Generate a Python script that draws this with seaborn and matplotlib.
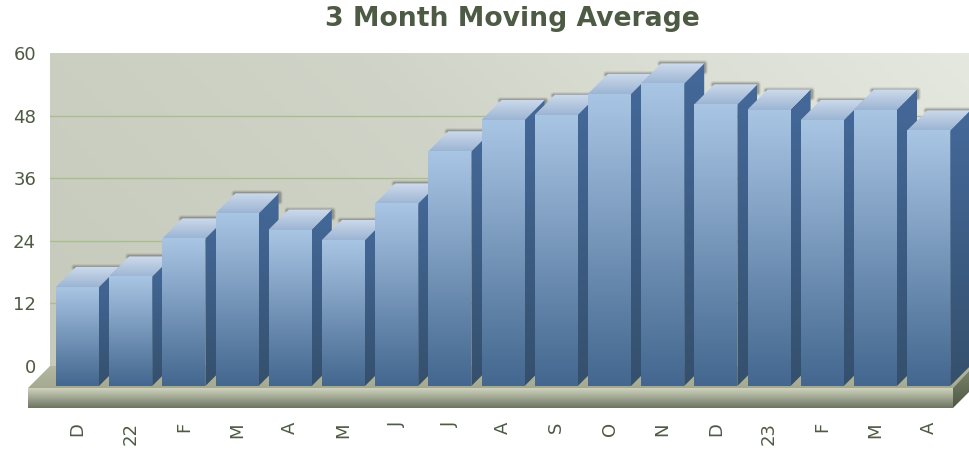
import numpy as np
import pandas as pd
import matplotlib
matplotlib.use("Agg")
import matplotlib.pyplot as plt
from matplotlib.colors import LinearSegmentedColormap
from matplotlib.patches import Polygon
from matplotlib.lines import Line2D
import seaborn as sns

# --- DATA ---
months = ['D', '22', 'F', 'M', 'A', 'M', 'J', 'J', 'A', 'S', 'O', 'N', 'D', '23', 'F', 'M', 'A']
moving_avg = [19, 21, 28.3, 33.1, 30, 28, 35, 45, 51, 52, 56, 58, 54, 53, 51, 53, 49]
y_ticks = [0, 12, 24, 36, 48, 60]

# --- LAYOUT (pixels of the 970x450 canvas) ---
W, H = 970, 450
WALL_LEFT, WALL_TOP, WALL_BOTTOM = 50, 53, 366
FRONT_BOTTOM = 386
PX_PER_UNIT = (WALL_BOTTOM - WALL_TOP) / 60
BAR_PITCH = 53.2
BAR_X0 = 77.5
DEPTH_PX = 20
TEXT_COLOR = '#4d5a44'

sns.set_theme(style="white")
plt.rcParams['font.family'] = 'DejaVu Sans'


def gradient_fill(ax, verts, top, bottom, z):
    """Fills a polygon with a vertical gradient, clipped to the polygon."""
    verts = np.asarray(verts)
    cmap = LinearSegmentedColormap.from_list('g', [top, bottom])
    poly = Polygon(verts, closed=True, transform=ax.transData, fc='none', ec='none')
    im = ax.imshow(np.linspace(0, 1, 128).reshape(-1, 1), cmap=cmap, aspect='auto',
                   extent=[verts[:, 0].min(), verts[:, 0].max(), verts[:, 1].min(), verts[:, 1].max()],
                   origin='upper', zorder=z, interpolation='bilinear')
    im.set_clip_path(poly)
    return im


fig = plt.figure(figsize=(W / 100, H / 100), dpi=100)
fig.patch.set_facecolor('white')


def px_axes(left, top, right, bottom, z):
    return fig.add_axes([left / W, 1 - bottom / H, (right - left) / W, (bottom - top) / H], zorder=z)


# back wall carries the y scale and the grid
ax_wall = px_axes(WALL_LEFT, WALL_TOP, W, WALL_BOTTOM, 0)
gx, gy = np.meshgrid(np.linspace(0, 1, 200), np.linspace(1, 0, 100))
wall_cmap = LinearSegmentedColormap.from_list('wall', ['#c6cabb', '#d0d4c8', '#e5e8df'])
ax_wall.imshow(gx * 0.75 + gy * 0.25, cmap=wall_cmap, aspect='auto', extent=[0, 1, 0, 60], zorder=0)
ax_wall.set_xlim(0, 1)
ax_wall.set_ylim(0, 60)
ax_wall.set_xticks([])
ax_wall.set_yticks(y_ticks)
ax_wall.tick_params(axis='y', length=0, pad=10, labelsize=13, labelcolor=TEXT_COLOR)
for y in y_ticks[1:-1]:
    ax_wall.axhline(y, color='#a9bd8e', lw=1.0, zorder=1)
sns.despine(ax=ax_wall, left=True, bottom=True)

# floor and slab, y axis runs upward from the canvas bottom
ax_floor = px_axes(0, 0, W, H, 1)
ax_floor.set_xlim(0, W)
ax_floor.set_ylim(0, H)
ax_floor.set_autoscale_on(False)
ax_floor.axis('off')
ax_floor.patch.set_alpha(0)


def up(y):
    return H - y


gradient_fill(ax_floor, [(28, up(388)), (50, up(366)), (975, up(366)), (953, up(388))], '#b4b8a3', '#a4a990', 1)
gradient_fill(ax_floor, [(28, up(388)), (953, up(388)), (953, up(408)), (28, up(408))], '#cfd3be', '#6c7560', 2)
gradient_fill(ax_floor, [(953, up(388)), (973, up(367)), (973, up(388)), (953, up(408))], '#7c856c', '#4f5844', 2)
ax_floor.set_xlim(0, W)
ax_floor.set_ylim(0, H)

# bars, drawn by seaborn on the front plane
ax = px_axes(WALL_LEFT, WALL_TOP, W, FRONT_BOTTOM, 2)
ax.patch.set_alpha(0)
df = pd.DataFrame({'pos': np.arange(len(months)), 'value': moving_avg})
sns.barplot(data=df, x='pos', y='value', native_scale=True, width=43 / BAR_PITCH,
            color='#6f93bb', ax=ax, zorder=2, saturation=1)
xlim = ((WALL_LEFT - BAR_X0) / BAR_PITCH, (W - BAR_X0) / BAR_PITCH)
ylim = (0, (FRONT_BOTTOM - WALL_TOP) / PX_PER_UNIT)
ax.set_autoscale_on(False)

dx = DEPTH_PX / BAR_PITCH
dy = DEPTH_PX / PX_PER_UNIT
for i, bar in enumerate(ax.patches):
    x0, x1 = bar.get_x(), bar.get_x() + bar.get_width()
    h = bar.get_height()
    base = 3 + i * 5
    # soft shadow along the back edge of the top face
    sx = [x0 + dx - 0.03, x1 + dx, x1 + dx]
    sy = [h + dy, h + dy, h + dy - 1.5]
    for lw, alpha in [(5, 0.08), (3.5, 0.14), (2, 0.22)]:
        ax.add_line(Line2D(sx, sy, color='#33332c', lw=lw, alpha=alpha, zorder=base,
                           solid_joinstyle='round', solid_capstyle='round'))
    gradient_fill(ax, [(x1, 0), (x1 + dx, dy), (x1 + dx, h + dy), (x1, h)], '#44699a', '#35506d', base + 1)
    # top face runs a little under the front face so no seam shows
    gradient_fill(ax, [(x0, h - 0.4), (x1, h - 0.4), (x1, h), (x1 + dx, h + dy), (x0 + dx, h + dy), (x0, h)],
                  '#cfdbec', '#97b1d0', base + 2)
    gradient_fill(ax, [(x0, 0), (x1, 0), (x1, h), (x0, h)], '#a9c5e4', '#43678f', base + 3)
    bar.set_visible(False)

ax.set_xlim(*xlim)
ax.set_ylim(*ylim)
ax.set_yticks([])
ax.set_xticks(df['pos'].to_numpy(), labels=months)
ax.tick_params(axis='x', length=0, pad=26, labelsize=13, labelcolor=TEXT_COLOR, labelrotation=90)
ax.set_xlabel('')
ax.set_ylabel('')
sns.despine(ax=ax, left=True, bottom=True)

fig.text(512 / W, 1 - 19 / H, '3 Month Moving Average', ha='center', va='center',
         fontsize=19.2, fontweight='bold', color=TEXT_COLOR)

fig.savefig('out.png', dpi=100)
plt.close(fig)
